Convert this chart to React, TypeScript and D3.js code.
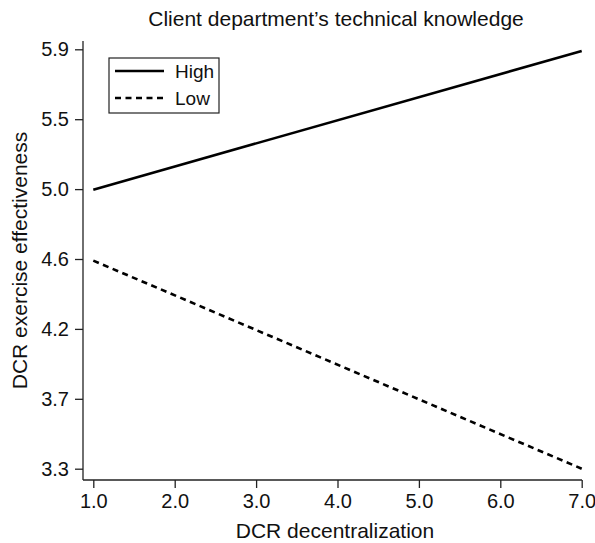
import { useEffect, useRef } from 'react';
import * as d3 from 'd3';

const xValues = [1, 7];
const highValues = [5.03, 5.89];
const lowValues = [4.59, 3.3];
const xTicks = [1, 2, 3, 4, 5, 6, 7];
const yTicks = [3.3, 3.7333, 4.1667, 4.6, 5.0333, 5.4667, 5.9];
const seriesNames = ['High', 'Low'];

const FONT = '"Liberation Sans", Arial, Helvetica, sans-serif';

export default function App() {
  const svgRef = useRef<SVGSVGElement>(null);

  useEffect(() => {
    if (!svgRef.current) return;
    const svg = d3.select(svgRef.current);
    svg.selectAll('*').remove();

    const width = 595;
    const height = 543;
    // plot frame
    const frame = { left: 83, right: 582, top: 41, bottom: 480 };

    const x = d3.scaleLinear().domain([1, 7]).range([93.3, 581.7]);
    const y = d3.scaleLinear().domain([3.3, 5.9]).range([468.7, 49.3]);

    svg.append('rect').attr('width', width).attr('height', height).attr('fill', '#fff');

    const g = svg.append('g');

    // X axis
    const xAxis = g
      .append('g')
      .attr('transform', `translate(0,${frame.bottom})`)
      .call(
        d3
          .axisBottom(x)
          .tickValues(xTicks)
          .tickFormat(d3.format('.1f'))
          .tickSize(8)
          .tickPadding(6)
          .tickSizeOuter(0)
      );
    xAxis.select('.domain').remove();
    xAxis
      .append('line')
      .attr('x1', frame.left)
      .attr('x2', frame.right)
      .attr('stroke', '#222')
      .attr('stroke-width', 1.3);

    // Y axis
    const yAxis = g
      .append('g')
      .attr('transform', `translate(${frame.left},0)`)
      .call(
        d3
          .axisLeft(y)
          .tickValues(yTicks)
          .tickFormat(d3.format('.1f'))
          .tickSize(8)
          .tickPadding(6)
          .tickSizeOuter(0)
      );
    yAxis.select('.domain').remove();
    yAxis
      .append('line')
      .attr('y1', frame.top)
      .attr('y2', frame.bottom)
      .attr('stroke', '#222')
      .attr('stroke-width', 1.3);

    [xAxis, yAxis].forEach((ax) => {
      ax.selectAll('.tick line').attr('stroke', '#222').attr('stroke-width', 1.3);
      ax.selectAll('.tick text')
        .attr('fill', '#111')
        .style('font-family', FONT)
        .style('font-size', '20px');
    });

    // lines
    const line = d3
      .line<number>()
      .x((_, i) => x(xValues[i]))
      .y((d) => y(d));

    g.append('path')
      .datum(highValues)
      .attr('d', line)
      .attr('fill', 'none')
      .attr('stroke', '#000')
      .attr('stroke-width', 2.6);

    g.append('path')
      .datum(lowValues)
      .attr('d', line)
      .attr('fill', 'none')
      .attr('stroke', '#000')
      .attr('stroke-width', 2.6)
      .attr('stroke-dasharray', '6,4.5');

    // title & labels
    svg
      .append('text')
      .attr('x', 336)
      .attr('y', 26)
      .attr('text-anchor', 'middle')
      .style('font-family', FONT)
      .style('font-size', '21px')
      .attr('fill', '#111')
      .text('Client department\u2019s technical knowledge');

    svg
      .append('text')
      .attr('x', 335)
      .attr('y', 538)
      .attr('text-anchor', 'middle')
      .style('font-family', FONT)
      .style('font-size', '21px')
      .attr('fill', '#111')
      .text('DCR decentralization');

    svg
      .append('text')
      .attr('transform', `translate(27,${(frame.top + frame.bottom) / 2}) rotate(-90)`)
      .attr('text-anchor', 'middle')
      .style('font-family', FONT)
      .style('font-size', '21px')
      .attr('fill', '#111')
      .text('DCR exercise effectiveness');

    // legend
    const legend = svg.append('g').attr('transform', 'translate(109,58)');
    legend
      .append('rect')
      .attr('width', 110)
      .attr('height', 55)
      .attr('fill', '#fff')
      .attr('stroke', '#222')
      .attr('stroke-width', 1.2);

    seriesNames.forEach((name, i) => {
      const ly = 13 + i * 27;
      legend
        .append('line')
        .attr('x1', 6)
        .attr('x2', 55)
        .attr('y1', ly)
        .attr('y2', ly)
        .attr('stroke', '#000')
        .attr('stroke-width', 2.6)
        .attr('stroke-dasharray', i === 1 ? '6,4.5' : null);
      legend
        .append('text')
        .attr('x', 66)
        .attr('y', ly)
        .attr('dy', '0.35em')
        .style('font-family', FONT)
        .style('font-size', '19px')
        .attr('fill', '#111')
        .text(name);
    });
  }, []);

  return (
    <svg
      ref={svgRef}
      width={595}
      height={543}
      style={{ position: 'absolute', left: 0, top: 0, display: 'block' }}
    />
  );
}
